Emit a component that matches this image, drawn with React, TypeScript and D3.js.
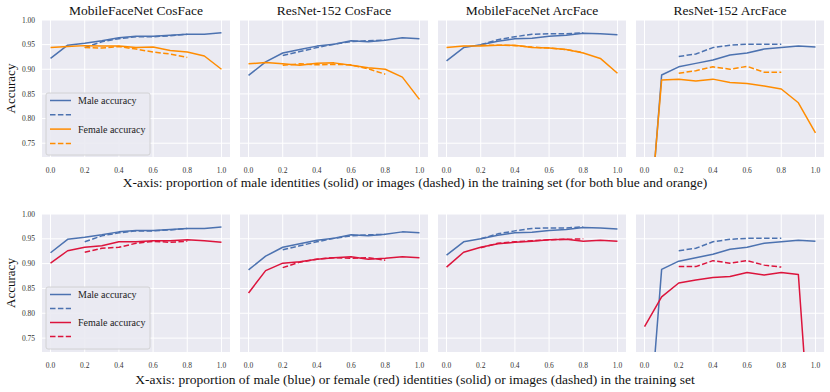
import React from "react";
import * as d3 from "d3";

const titles = ["MobileFaceNet CosFace", "ResNet-152 CosFace", "MobileFaceNet ArcFace", "ResNet-152 ArcFace"];
const xsFull = [0, 0.1, 0.2, 0.3, 0.4, 0.5, 0.6, 0.7, 0.8, 0.9, 1.0];
const xsDash = [0.2, 0.3, 0.4, 0.5, 0.6, 0.7, 0.8];
const xTicks = [0, 0.2, 0.4, 0.6, 0.8, 1.0];
const yTicks = [0.75, 0.8, 0.85, 0.9, 0.95, 1.0];

const maleSolid = [
  [0.922, 0.949, 0.953, 0.958, 0.964, 0.967, 0.967, 0.969, 0.971, 0.971, 0.974],
  [0.8875, 0.915, 0.933, 0.94, 0.947, 0.951, 0.958, 0.956, 0.959, 0.964, 0.962],
  [0.917, 0.944, 0.95, 0.957, 0.962, 0.963, 0.967, 0.969, 0.973, 0.972, 0.97],
  [0.45, 0.8885, 0.905, 0.912, 0.919, 0.929, 0.933, 0.941, 0.944, 0.947, 0.945],
];
const maleDashed = [
  [0.944, 0.956, 0.962, 0.966, 0.966, 0.968, 0.971],
  [0.928, 0.936, 0.944, 0.951, 0.956, 0.958, 0.959],
  [0.95, 0.96, 0.966, 0.971, 0.972, 0.972, 0.974],
  [0.926, 0.931, 0.944, 0.949, 0.951, 0.951, 0.951],
];
// top row: female accuracy vs male proportion (orange)
const femaleSolidTop = [
  [0.944, 0.946, 0.948, 0.947, 0.947, 0.944, 0.945, 0.938, 0.935, 0.927, 0.9],
  [0.911, 0.914, 0.911, 0.908, 0.912, 0.913, 0.908, 0.903, 0.9, 0.884, 0.839],
  [0.944, 0.947, 0.947, 0.949, 0.949, 0.944, 0.943, 0.94, 0.933, 0.922, 0.892],
  [0.47, 0.878, 0.88, 0.876, 0.88, 0.873, 0.871, 0.866, 0.86, 0.832, 0.771],
];
const femaleDashedTop = [
  [0.944, 0.943, 0.946, 0.941, 0.935, 0.931, 0.924],
  [0.908, 0.911, 0.909, 0.91, 0.909, 0.901, 0.89],
  [0.949, 0.949, 0.948, 0.945, 0.943, 0.94, 0.934],
  [0.892, 0.897, 0.905, 0.9, 0.906, 0.894, 0.894],
];
// bottom row: female accuracy vs female proportion (red)
const femaleSolidBottom = [
  [0.901, 0.926, 0.933, 0.936, 0.944, 0.944, 0.946, 0.946, 0.948, 0.946, 0.943],
  [0.841, 0.886, 0.901, 0.904, 0.909, 0.912, 0.914, 0.909, 0.911, 0.914, 0.912],
  [0.893, 0.923, 0.933, 0.94, 0.943, 0.945, 0.948, 0.949, 0.945, 0.947, 0.945],
  [0.773, 0.833, 0.861, 0.867, 0.872, 0.874, 0.882, 0.877, 0.882, 0.878, 0.39],
];
const femaleDashedBottom = [
  [0.923, 0.931, 0.933, 0.941, 0.945, 0.943, 0.945],
  [0.892, 0.903, 0.909, 0.912, 0.911, 0.912, 0.907],
  [0.932, 0.941, 0.944, 0.946, 0.948, 0.949, 0.95],
  [0.894, 0.894, 0.906, 0.901, 0.906, 0.897, 0.893],
];

const BLUE = "#4c72b0";
const ORANGE = "#ff8c00";
const RED = "#dc143c";
const BG = "#eaeaf2";
const FONT = "'Liberation Serif', 'Times New Roman', Times, serif";

const panelLefts = [42, 240, 438, 636];
const panelW = 188;
const rows = [
  { top: 20, bottom: 157, female: femaleSolidTop, femaleD: femaleDashedTop, color: ORANGE,
    xlabel: "X-axis: proportion of male identities (solid) or images (dashed) in the training set (for both blue and orange)", xlabelY: 187 },
  { top: 214, bottom: 352, female: femaleSolidBottom, femaleD: femaleDashedBottom, color: RED,
    xlabel: "X-axis: proportion of male (blue) or female (red) identities (solid) or images (dashed) in the training set", xlabelY: 384 },
];

function Panel({ r, i, row }: any) {
  const left = panelLefts[i];
  const x = d3.scaleLinear().domain([-0.05, 1.05]).range([left, left + panelW]);
  const y = d3.scaleLinear().domain([0.722, 1.0]).range([row.bottom, row.top]);
  const line = (xs: number[]) =>
    d3.line<number>().x((_, k) => x(xs[k])).y((d) => y(d));
  const clipId = `clip-${r}-${i}`;
  const series = [
    { d: maleSolid[i], xs: xsFull, c: BLUE, dash: null },
    { d: maleDashed[i], xs: xsDash, c: BLUE, dash: "5.5 2.4" },
    { d: row.female[i], xs: xsFull, c: row.color, dash: null },
    { d: row.femaleD[i], xs: xsDash, c: row.color, dash: "5.5 2.4" },
  ];
  return (
    <g>
      <defs>
        <clipPath id={clipId}>
          <rect x={left} y={row.top} width={panelW} height={row.bottom - row.top} />
        </clipPath>
      </defs>
      <rect x={left} y={row.top} width={panelW} height={row.bottom - row.top} fill={BG} />
      {xTicks.map((t) => (
        <line key={"gx" + t} x1={x(t)} x2={x(t)} y1={row.top} y2={row.bottom} stroke="#fff" strokeWidth={1} />
      ))}
      {yTicks.map((t) => (
        <line key={"gy" + t} x1={left} x2={left + panelW} y1={y(t)} y2={y(t)} stroke="#fff" strokeWidth={1} />
      ))}
      <g clipPath={`url(#${clipId})`}>
        {series.map((s, k) => (
          <path key={k} d={line(s.xs)(s.d) || ""} fill="none" stroke={s.c} strokeWidth={1.5}
            strokeDasharray={s.dash || undefined} strokeLinejoin="round" />
        ))}
      </g>
      {xTicks.map((t) => (
        <text key={"tx" + t} x={x(t)} y={row.bottom + 15.5} textAnchor="middle" fontSize={7.5} fill="#333" fontFamily={FONT}>
          {d3.format(".1f")(t)}
        </text>
      ))}
      {i === 0 &&
        yTicks.map((t) => (
          <text key={"ty" + t} x={left - 7} y={y(t) + 2.6} textAnchor="end" fontSize={7.5} fill="#333" fontFamily={FONT}>
            {d3.format(".2f")(t)}
          </text>
        ))}
      {r === 0 && (
        <text x={left + panelW / 2} y={15} textAnchor="middle" fontSize={13.5} fill="#111" fontFamily={FONT}>
          {titles[i]}
        </text>
      )}
    </g>
  );
}

function Legend({ row, r }: any) {
  const bx = 46, bw = 104;
  const by = r === 0 ? 93 : 287;
  const step = r === 0 ? 14.3 : 14;
  const items = [
    { c: BLUE, dash: null, label: "Male accuracy" },
    { c: BLUE, dash: "5.5 2.4", label: "" },
    { c: row.color, dash: null, label: "Female accuracy" },
    { c: row.color, dash: "5.5 2.4", label: "" },
  ];
  return (
    <g>
      <rect x={bx} y={by} width={bw} height={62} rx={2} fill={BG} fillOpacity={0.9} stroke="#cccccc" strokeWidth={0.8} />
      {items.map((it, k) => {
        const yy = by + 7.5 + k * step;
        return (
          <g key={k}>
            <line x1={50} x2={71} y1={yy} y2={yy} stroke={it.c} strokeWidth={1.5} strokeDasharray={it.dash || undefined} />
            <text x={78} y={yy + 3.4} fontSize={10} fill="#222" fontFamily={FONT}>{it.label}</text>
          </g>
        );
      })}
    </g>
  );
}

export default function App() {
  return (
    <svg width={830} height={392} style={{ position: "absolute", left: 0, top: 0, background: "#fff" }}>
      {rows.map((row, r) => (
        <g key={r}>
          {titles.map((_, i) => (
            <Panel key={i} r={r} i={i} row={row} />
          ))}
          <Legend row={row} r={r} />
          <text transform={`translate(15,${(row.top + row.bottom) / 2}) rotate(-90)`}
            textAnchor="middle" fontSize={13} fill="#111" fontFamily={FONT}>
            Accuracy
          </text>
          <text x={415} y={row.xlabelY} textAnchor="middle" fontSize={13.5} fill="#111" fontFamily={FONT}>
            {row.xlabel}
          </text>
        </g>
      ))}
    </svg>
  );
}
